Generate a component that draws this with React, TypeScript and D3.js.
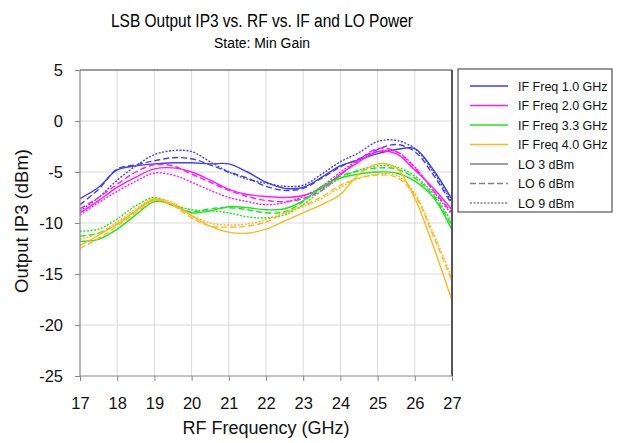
import React, { useEffect, useRef } from "react";
import * as d3 from "d3";

const freqs = [17, 17.5, 18, 18.5, 19, 19.5, 20, 20.5, 21, 21.5, 22, 22.5, 23, 23.5, 24, 24.5, 25, 25.5, 26, 26.5, 27];

const if1_lo3 = [-7.6, -6.5, -4.8, -4.4, -4.2, -4.1, -4.1, -4.2, -4.2, -5.0, -6.0, -6.6, -6.5, -5.5, -4.4, -3.8, -3.2, -2.8, -2.7, -4.8, -7.7];
const if1_lo6 = [-8.2, -6.7, -4.7, -4.3, -3.9, -3.6, -3.7, -4.3, -5.0, -5.6, -6.4, -6.8, -6.6, -5.6, -4.5, -3.7, -2.8, -2.3, -3.0, -5.3, -8.2];
const if1_lo9 = [-8.8, -7.5, -5.8, -4.4, -3.3, -2.9, -3.0, -4.0, -5.0, -5.7, -6.1, -6.4, -6.3, -5.2, -4.0, -3.1, -2.0, -1.9, -2.7, -5.0, -8.0];

const if2_lo3 = [-9.0, -7.8, -6.5, -5.5, -4.7, -4.6, -5.0, -5.8, -6.7, -7.2, -7.4, -7.5, -7.3, -6.6, -5.2, -4.0, -3.0, -3.2, -4.8, -6.6, -8.7];
const if2_lo6 = [-8.6, -7.5, -6.2, -5.0, -4.3, -4.4, -5.2, -6.0, -6.8, -7.4, -7.8, -7.9, -7.6, -6.8, -5.3, -3.8, -2.7, -3.0, -4.6, -6.8, -9.0];
const if2_lo9 = [-9.2, -8.0, -6.9, -5.9, -5.1, -5.3, -6.0, -6.8, -7.5, -7.9, -8.2, -8.0, -7.4, -6.4, -5.0, -3.8, -3.0, -3.0, -4.5, -6.9, -9.2];

const if33_lo3 = [-11.8, -11.6, -10.6, -9.2, -7.9, -8.2, -9.0, -8.8, -8.4, -8.5, -8.7, -8.6, -7.8, -6.4, -5.6, -5.2, -5.0, -5.1, -5.9, -7.5, -10.7];
const if33_lo6 = [-11.3, -11.0, -10.1, -8.8, -7.7, -8.3, -8.9, -8.6, -8.5, -8.7, -9.0, -8.9, -7.9, -6.5, -5.4, -4.9, -4.6, -4.7, -5.6, -7.3, -10.3];
const if33_lo9 = [-10.8, -10.6, -9.6, -8.3, -7.5, -8.2, -8.7, -8.8, -9.0, -9.4, -9.5, -9.2, -8.2, -6.8, -5.6, -4.8, -4.4, -4.5, -5.4, -7.1, -10.0];

const if4_lo3 = [-12.2, -11.2, -10.1, -8.8, -7.7, -8.2, -9.3, -10.3, -10.9, -11.0, -10.6, -9.8, -9.0, -8.2, -7.2, -5.2, -4.2, -4.6, -7.6, -12.3, -17.6];
const if4_lo6 = [-12.5, -11.5, -10.3, -9.0, -7.8, -8.3, -9.5, -10.3, -10.4, -10.3, -9.9, -9.0, -8.3, -7.4, -6.3, -5.6, -5.3, -5.5, -7.3, -11.3, -15.7];
const if4_lo9 = [-11.6, -11.0, -9.9, -8.6, -7.6, -8.0, -9.2, -10.0, -10.2, -10.1, -9.7, -9.0, -8.4, -7.6, -6.5, -5.6, -5.2, -5.3, -7.1, -11.0, -15.4];

const ifLabels = ["IF Freq 1.0 GHz", "IF Freq 2.0 GHz", "IF Freq 3.3 GHz", "IF Freq 4.0 GHz"];
const ifColors = ["#4141f2", "#ff1aff", "#1ee61e", "#ffb81c"];
const loLabels = ["LO 3 dBm", "LO 6 dBm", "LO 9 dBm"];
const loDash = ["none", "6,3", "2,1.5"];

const seriesByIF = [
  [if1_lo3, if1_lo6, if1_lo9],
  [if2_lo3, if2_lo6, if2_lo9],
  [if33_lo3, if33_lo6, if33_lo9],
  [if4_lo3, if4_lo6, if4_lo9],
];

const xTicks = [17, 18, 19, 20, 21, 22, 23, 24, 25, 26, 27];
const yTicks = [5, 0, -5, -10, -15, -20, -25];

const W = 617;
const H = 443;
const L = 80, R = 452, T = 70, B = 376;
const FONT = "'Liberation Sans', Arial, sans-serif";

export default function App() {
  const ref = useRef<SVGSVGElement>(null);

  useEffect(() => {
    const svg = d3.select(ref.current);
    svg.selectAll("*").remove();

    const x = d3.scaleLinear().domain([17, 27]).range([L, R]);
    const y = d3.scaleLinear().domain([-25, 5]).range([B, T]);

    svg.append("rect").attr("width", W).attr("height", H).attr("fill", "#fff");

    // grid
    const g = svg.append("g");
    g.selectAll("line.vg").data(xTicks.slice(1, -1)).enter().append("line")
      .attr("x1", d => x(d)).attr("x2", d => x(d)).attr("y1", T).attr("y2", B)
      .attr("stroke", "#d9d9d9").attr("stroke-width", 1);
    g.selectAll("line.hg").data(yTicks.slice(1, -1)).enter().append("line")
      .attr("y1", d => y(d)).attr("y2", d => y(d)).attr("x1", L).attr("x2", R)
      .attr("stroke", "#d9d9d9").attr("stroke-width", 1);

    // lines
    const line = d3.line<number>()
      .x((_, i) => x(freqs[i]))
      .y(d => y(d))
      .curve(d3.curveCatmullRom.alpha(0.5));

    const lg = svg.append("g");
    seriesByIF.forEach((group, i) => {
      group.forEach((vals, j) => {
        lg.append("path")
          .attr("d", line(vals) as string)
          .attr("fill", "none")
          .attr("stroke", ifColors[i])
          .attr("stroke-width", 1.4)
          .attr("stroke-dasharray", loDash[j]);
      });
    });

    // frame
    svg.append("line").attr("x1", L).attr("x2", R).attr("y1", T).attr("y2", T).attr("stroke", "#3a3a3a").attr("stroke-width", 1.2);
    svg.append("line").attr("x1", R).attr("x2", R).attr("y1", T).attr("y2", B).attr("stroke", "#555").attr("stroke-width", 2);
    svg.append("line").attr("x1", L).attr("x2", L).attr("y1", T).attr("y2", B).attr("stroke", "#888").attr("stroke-width", 1.2);
    svg.append("line").attr("x1", L).attr("x2", R).attr("y1", B).attr("y2", B).attr("stroke", "#888").attr("stroke-width", 1.2);

    // axes ticks
    const xAxis = d3.axisBottom(x).tickValues(xTicks).tickSize(5).tickPadding(16).tickFormat(d => String(d));
    const xa = svg.append("g").attr("transform", `translate(0,${B})`).call(xAxis);
    xa.select(".domain").remove();
    xa.selectAll("line").attr("stroke", "#888");
    xa.selectAll("text").attr("font-family", FONT).attr("font-size", 16.5).attr("fill", "#111");

    const yAxis = d3.axisLeft(y).tickValues(yTicks).tickSize(5).tickPadding(12).tickFormat(d => String(d));
    const ya = svg.append("g").attr("transform", `translate(${L},0)`).call(yAxis);
    ya.select(".domain").remove();
    ya.selectAll("line").attr("stroke", "#888");
    ya.selectAll("text").attr("font-family", FONT).attr("font-size", 16.5).attr("fill", "#111");

    // titles
    svg.append("text").attr("x", 262).attr("y", 27).attr("text-anchor", "middle")
      .attr("font-family", FONT).attr("font-size", 18).attr("fill", "#000")
      .attr("textLength", 302).attr("lengthAdjust", "spacingAndGlyphs")
      .text("LSB Output IP3 vs. RF vs. IF and LO Power");
    svg.append("text").attr("x", 262).attr("y", 48).attr("text-anchor", "middle")
      .attr("font-family", FONT).attr("font-size", 14).attr("fill", "#000")
      .attr("textLength", 96).attr("lengthAdjust", "spacingAndGlyphs")
      .text("State: Min Gain");
    svg.append("text").attr("x", (L + R) / 2).attr("y", 434).attr("text-anchor", "middle")
      .attr("font-family", FONT).attr("font-size", 18).attr("fill", "#111")
      .text("RF Frequency (GHz)");
    svg.append("text").attr("transform", `translate(28,${(T + B) / 2 - 2}) rotate(-90)`).attr("text-anchor", "middle")
      .attr("font-family", FONT).attr("font-size", 18.5).attr("fill", "#111")
      .text("Output IP3 (dBm)");

    // legend
    const leg = svg.append("g");
    leg.append("rect").attr("x", 458).attr("y", 69).attr("width", 154).attr("height", 143)
      .attr("fill", "#fff").attr("stroke", "#555").attr("stroke-width", 1.2);
    const items = [
      ...ifLabels.map((l, i) => ({ label: l, color: ifColors[i], dash: "none" })),
      ...loLabels.map((l, j) => ({ label: l, color: "#808080", dash: loDash[j] })),
    ];
    items.forEach((it, k) => {
      const yy = 86 + k * 19.5;
      leg.append("line").attr("x1", 470).attr("x2", 508).attr("y1", yy).attr("y2", yy)
        .attr("stroke", it.color).attr("stroke-width", 1.5).attr("stroke-dasharray", it.dash);
      leg.append("text").attr("x", 518).attr("y", yy + 4.5)
        .attr("font-family", FONT).attr("font-size", 12.5).attr("fill", "#111")
        .text(it.label);
    });
  }, []);

  return (
    <svg ref={ref} width={W} height={H} style={{ position: "absolute", left: 0, top: 0 }} />
  );
}
